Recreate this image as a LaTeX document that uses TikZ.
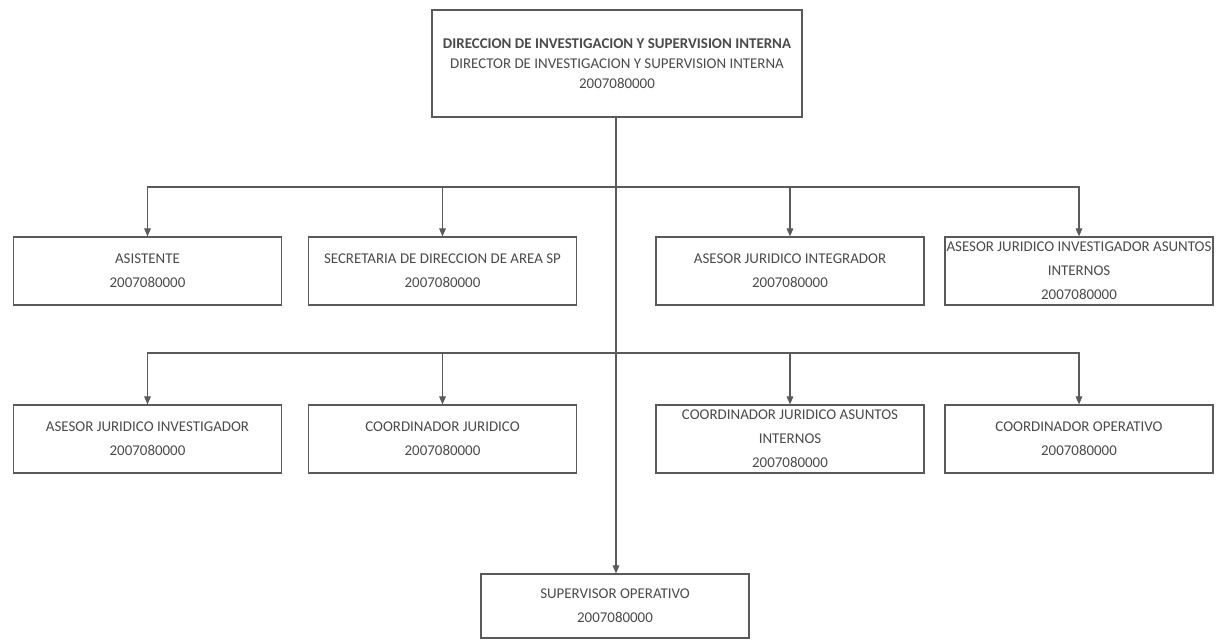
\documentclass[tikz,border=0pt]{standalone}
\usepackage{fontspec}
\setmainfont{Carlito}
\usetikzlibrary{arrows.meta}
\definecolor{txt}{HTML}{4A4A4A}
\definecolor{ln}{HTML}{5A5A5A}
\tikzset{
  box/.style={draw=ln, line width=0.9pt, rectangle, align=center, text=txt,
    font=\fontsize{11.2}{18}\selectfont, inner xsep=0pt, inner ysep=0pt,
    minimum width=201pt},
  rowbox/.style={box, minimum height=51pt},
  topbox/.style={box, font=\fontsize{11.2}{15}\selectfont, line width=1.6pt,
    minimum width=277.5pt, minimum height=80pt},
  arr/.style={draw=ln, line width=0.8pt, -{Triangle[width=5pt,length=6pt]}}
}
\begin{document}
\begin{tikzpicture}[x=0.75pt,y=-0.75pt]
\useasboundingbox (0,0) rectangle (1217,641);
\node[topbox] (top) at (617,63.5) {\textbf{DIRECCION DE INVESTIGACION Y SUPERVISION INTERNA}\\DIRECTOR DE INVESTIGACION Y SUPERVISION INTERNA\\2007080000};

\node[rowbox] (a1) at (147.5,271) {ASISTENTE\\2007080000};
\node[rowbox] (a2) at (442.5,271) {SECRETARIA DE DIRECCION DE AREA SP\\2007080000};
\node[rowbox] (a3) at (790,271) {ASESOR JURIDICO INTEGRADOR\\2007080000};
\node[rowbox] (a4) at (1079,271) {ASESOR JURIDICO INVESTIGADOR ASUNTOS\\INTERNOS\\2007080000};

\node[rowbox] (b1) at (147.5,439) {ASESOR JURIDICO INVESTIGADOR\\2007080000};
\node[rowbox] (b2) at (442.5,439) {COORDINADOR JURIDICO\\2007080000};
\node[rowbox] (b3) at (790,439) {COORDINADOR JURIDICO ASUNTOS\\INTERNOS\\2007080000};
\node[rowbox] (b4) at (1079,439) {COORDINADOR OPERATIVO\\2007080000};

\node[box, minimum height=48pt] (sup) at (615,606) {SUPERVISOR OPERATIVO\\2007080000};

\coordinate (j1) at (616,187);
\coordinate (j2) at (616,353);

\draw[arr] (top.south -| j1) -- (sup.north -| j1);
\draw[arr] (j1) -| (a1.north);
\draw[arr] (j1) -| (a2.north);
\draw[arr] (j1) -| (a3.north);
\draw[arr] (j1) -| (a4.north);
\draw[arr] (j2) -| (b1.north);
\draw[arr] (j2) -| (b2.north);
\draw[arr] (j2) -| (b3.north);
\draw[arr] (j2) -| (b4.north);
\end{tikzpicture}
\end{document}
